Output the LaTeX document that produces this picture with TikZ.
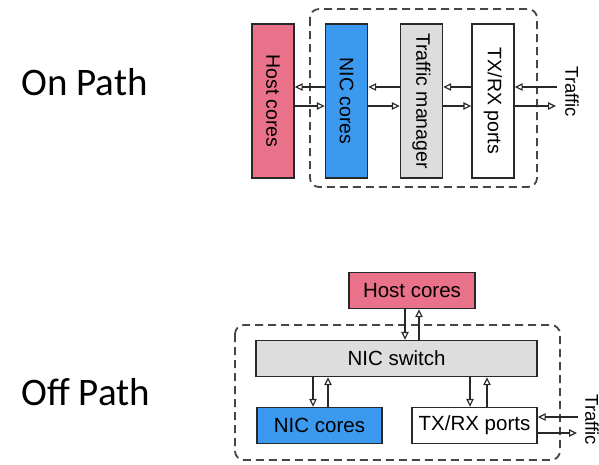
\documentclass[tikz,border=0pt]{standalone}
\usepackage{fontspec}
\setmainfont{Carlito}
\newfontfamily\helv{Liberation Sans}
\usetikzlibrary{arrows.meta}
\definecolor{hostpink}{RGB}{233,114,138}
\definecolor{nicblue}{RGB}{59,154,239}
\definecolor{tmgray}{RGB}{221,221,221}
\definecolor{edgegray}{RGB}{40,40,40}
\definecolor{dashgray}{RGB}{70,70,70}
\tikzset{
  blk/.style={draw=edgegray, line width=1.4pt, inner sep=0pt, anchor=center,
              font=\helv\fontsize{19.5}{20}\selectfont},
  vblk/.style={blk, minimum width=42pt, minimum height=154pt},
  hblk/.style={blk, minimum height=36pt, font=\helv\fontsize{20.5}{21}\selectfont},
  arr/.style={draw=edgegray, line width=1.2pt,
              -{Triangle[open, length=8pt, width=7.5pt, line width=1.2pt]}},
  dashbox/.style={draw=dashgray, line width=1.8pt, dash pattern=on 8pt off 5pt,
                  rounded corners=9pt},
  sidelabel/.style={font=\fontsize{39}{40}\selectfont, anchor=base west},
  traffic/.style={font=\helv\fontsize{18.5}{19}\selectfont, rotate=-90}
}
\begin{document}
\begin{tikzpicture}[x=1pt, y=-1pt]
\useasboundingbox (0,0) rectangle (599,464);

% ---- on-path NIC ----
\node[sidelabel] (onpath) at (18,95) {On Path};
\draw[dashbox] (310,9) rectangle (537,187);
\node[vblk, fill=hostpink] (host) at (273,101) {\rotatebox{-90}{Host cores}};
\node[vblk, fill=nicblue] (nic) at (346.5,101) {\rotatebox{-90}{NIC cores}};
\node[vblk, fill=tmgray] (tm) at (421.5,101) {\rotatebox{-90}{Traffic manager}};
\node[vblk, fill=white] (ports) at (493,101) {\rotatebox{-90}{TX/RX ports}};
\node[traffic] (traf) at (572,92) {Traffic};

\coordinate (up) at (0,87);
\coordinate (dn) at (0,106);
\coordinate (inT) at (557,87);
\coordinate (outT) at (556,106);

\draw[arr] (nic.west |- up) -- (host.east |- up);
\draw[arr] (host.east |- dn) -- (nic.west |- dn);
\draw[arr] (tm.west |- up) -- (nic.east |- up);
\draw[arr] (nic.east |- dn) -- (tm.west |- dn);
\draw[arr] (ports.west |- up) -- (tm.east |- up);
\draw[arr] (tm.east |- dn) -- (ports.west |- dn);
\draw[arr] (inT) -- (ports.east |- inT);
\draw[arr] (ports.east |- outT) -- (outT);

% ---- off-path NIC ----
\node[sidelabel] (offpath) at (18,405) {Off Path};
\draw[dashbox] (235,325) rectangle (560,460);
\node[hblk, fill=hostpink, minimum width=126pt] (host2) at (412,290.5) {Host cores};
\node[hblk, fill=tmgray, minimum width=281pt] (sw) at (396.5,358.5) {NIC switch};
\node[hblk, fill=nicblue, minimum width=125pt] (nic2) at (319.5,425.5) {NIC cores};
\node[hblk, fill=white, minimum width=125pt] (ports2) at (474.5,425.5) {TX/RX ports};
\node[traffic] (traf2) at (592,420) {Traffic};

\coordinate (hd) at (405,0);
\coordinate (hu) at (419,0);
\coordinate (cd) at (313,0);
\coordinate (cu) at (328,0);
\coordinate (pd) at (470,0);
\coordinate (pu) at (487,0);
\coordinate (inT2) at (578,417);
\coordinate (outT2) at (577,433);

\draw[arr] (host2.south -| hd) -- (sw.north -| hd);
\draw[arr] (sw.north -| hu) -- (host2.south -| hu);
\draw[arr] (sw.south -| cd) -- (nic2.north -| cd);
\draw[arr] (nic2.north -| cu) -- (sw.south -| cu);
\draw[arr] (sw.south -| pd) -- (ports2.north -| pd);
\draw[arr] (ports2.north -| pu) -- (sw.south -| pu);
\draw[arr] (inT2) -- (ports2.east |- inT2);
\draw[arr] (ports2.east |- outT2) -- (outT2);
\end{tikzpicture}
\end{document}
